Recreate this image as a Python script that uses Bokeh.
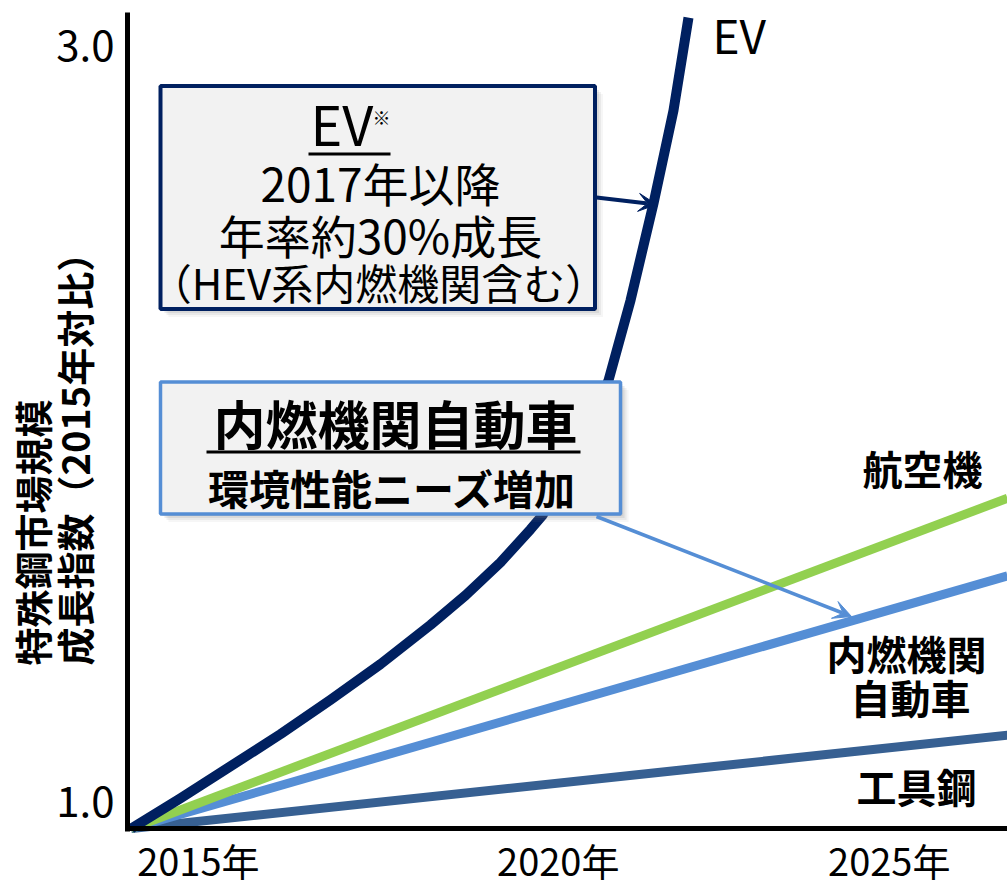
import math
from bokeh.plotting import figure
from bokeh.models import Range1d, Label, BoxAnnotation, Arrow, VeeHead, FixedTicker
from bokeh.embed import file_html
from bokeh.resources import INLINE

# ---------------- data ----------------
ev_years = [2015.00, 2015.646, 2016.302, 2016.958, 2017.614, 2018.271, 2018.927, 2019.386,
            2019.846, 2020.240, 2020.397, 2020.830, 2021.263, 2021.552, 2021.854, 2022.116, 2022.313]
ev_index = [1.000, 1.078, 1.160, 1.243, 1.331, 1.423, 1.524, 1.600,
            1.685, 1.770, 1.806, 1.952, 2.153, 2.359, 2.609, 2.848, 3.087]
line_years = [2015.0, 2026.5]
aircraft_index = [1.0, 1.85]
ice_index = [1.0, 1.65]
toolsteel_index = [1.0, 1.24]

xtick_years = [2015, 2020, 2025]
xtick_labels = ["2015年", "2020年", "2025年"]
ytick_values = [1.0, 3.0]
ytick_labels = ["1.0", "3.0"]

series_names = ["EV", "航空機", "内燃機関", "自動車", "工具鋼"]
y_title = ["特殊鋼市場規模", "成長指数（2015年対比）"]
box1_lines = ["EV", "※", "2017年以降", "年率約30%成長", "（HEV系内燃機関含む）"]
box2_lines = ["内燃機関自動車", "環境性能ニーズ増加"]

# ---------------- styling ----------------
NAVY = "#002060"
GREEN = "#92D050"
LBLUE = "#558ED5"
STEEL = "#376092"
BOXFILL = "#F2F2F2"
FONT = "Noto Sans CJK JP"

W, H = 1007, 889
XS, XE = 2013.283, 2026.5
YS, YE = 0.843, 3.131

p = figure(width=W, height=H, x_range=Range1d(XS, XE), y_range=Range1d(YS, YE),
           output_backend="svg", toolbar_location=None,
           min_border_left=0, min_border_right=0, min_border_top=0, min_border_bottom=0)
p.grid.visible = False
p.outline_line_color = None
p.background_fill_color = "white"

# canvas pixel -> data helpers for annotations
def DX(sx):
    return XS + sx * (XE - XS) / W
def DY(sy):
    return YE - sy * (YE - YS) / H

AXIS_X = DX(127)
for ax in (p.xaxis, p.yaxis):
    ax.ticker = FixedTicker(ticks=[])
    ax.axis_line_width = 5
    ax.axis_line_color = "black"
    ax.major_tick_line_color = None
    ax.minor_tick_line_color = None
    ax.major_tick_out = 0
    ax.major_tick_in = 0
    ax.major_label_standoff = 0
    ax.major_label_text_font_size = "0px"
p.xaxis.fixed_location = 1.0
p.xaxis.bounds = (DX(124.5), XE)
p.yaxis.fixed_location = AXIS_X
p.yaxis.bounds = (DY(830.5), DY(12))

# ---------------- series lines ----------------
p.line(line_years, toolsteel_index, line_width=9, color=STEEL)
p.line(line_years, ice_index, line_width=9, color=LBLUE)
p.line(line_years, aircraft_index, line_width=9, color=GREEN)
p.line(ev_years, ev_index, line_width=10, color=NAVY, line_join="round")

SHIFT = 4  # text renders a little low with the "middle" baseline

def label(text, sx, sy, size, bold=False, align="center", angle=0.0):
    if angle == 0.0:
        sy = sy - SHIFT
    else:
        sx = sx - SHIFT
    p.add_layout(Label(x=DX(sx), y=DY(sy), text=text, text_font=FONT,
                       text_font_size=f"{size}px",
                       text_font_style="bold" if bold else "normal",
                       text_align=align, text_baseline="middle", angle=angle,
                       text_color="black"))

def box(l, t, r, b, color, lw):
    for off, a in [(8, 0.07), (6, 0.11), (4, 0.15), (2, 0.2)]:
        p.add_layout(BoxAnnotation(left=DX(l + off), right=DX(r + off), top=DY(t + off),
                                   bottom=DY(b + off), fill_color="#808080", fill_alpha=a,
                                   line_color=None))
    p.add_layout(BoxAnnotation(left=DX(l), right=DX(r), top=DY(t), bottom=DY(b),
                               fill_color=BOXFILL, fill_alpha=1.0,
                               line_color=color, line_width=lw, line_alpha=1.0))

def rule(l, r, y, h=3):
    p.add_layout(BoxAnnotation(left=DX(l), right=DX(r), top=DY(y - h / 2), bottom=DY(y + h / 2),
                               fill_color="black", fill_alpha=1.0, line_color=None))

# ---------------- callout boxes ----------------
box(160, 85.5, 594.5, 308.5, NAVY, 4)
label(box1_lines[0], 310, 126, 54, align="left")
label(box1_lines[1], 381, 120, 18)
rule(308, 390, 153.5)
label(box1_lines[2], 380, 185, 46)
label(box1_lines[3], 380, 237, 46)
label(box1_lines[4], 378, 285, 42)

box(160, 381.5, 620, 513.5, LBLUE, 3.5)
label(box2_lines[0], 395, 426, 52, bold=True)
rule(206, 580, 451.5)
label(box2_lines[1], 392, 490, 41, bold=True)

# ---------------- arrows ----------------
p.add_layout(Arrow(end=VeeHead(size=18, fill_color=NAVY, line_color=NAVY, line_width=1),
                   x_start=DX(596), y_start=DY(197), x_end=DX(656), y_end=DY(204),
                   line_color=NAVY, line_width=4))
p.add_layout(Arrow(end=VeeHead(size=18, fill_color=LBLUE, line_color=LBLUE, line_width=1),
                   x_start=DX(596), y_start=DY(516), x_end=DX(851), y_end=DY(616),
                   line_color=LBLUE, line_width=3.5))

# ---------------- series names ----------------
label(series_names[0], 712, 37, 46, align="left")
label(series_names[1], 922, 471, 40, bold=True)
label(series_names[2], 906, 656, 40, bold=True)
label(series_names[3], 910, 700, 40, bold=True)
label(series_names[4], 916, 789, 40, bold=True)

# ---------------- axis title ----------------
label(y_title[0], 35, 665, 38, bold=True, align="left", angle=math.pi / 2)
label(y_title[1], 77, 665, 38, bold=True, align="left", angle=math.pi / 2)

# ---------------- tick labels ----------------
for v, t, off in zip(ytick_values, ytick_labels, [23 + SHIFT, 2 + SHIFT]):
    p.add_layout(Label(x=AXIS_X, y=v, x_offset=-13, y_offset=off, text=t, text_font=FONT,
                       text_font_size="42px", text_align="right", text_baseline="middle",
                       text_color="black"))
for yr, t, off in zip(xtick_years, xtick_labels, [67, 46, -4]):
    p.add_layout(Label(x=yr, y=1.0, x_offset=off, y_offset=-31, text=t, text_font=FONT,
                       text_font_size="38px", text_align="center", text_baseline="middle",
                       text_color="black"))

open("out.html", "w").write(file_html(p, INLINE))
